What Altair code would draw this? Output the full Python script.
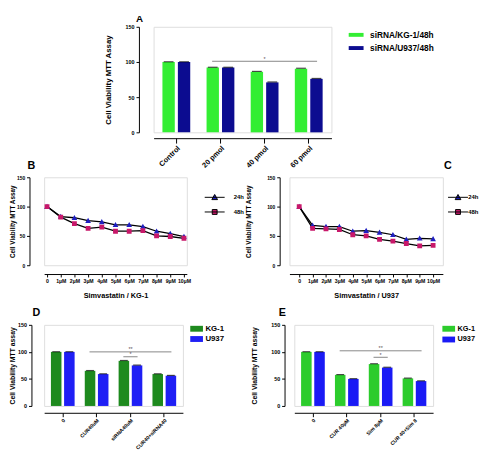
import altair as alt
import pandas as pd

FONT = "Liberation Sans"

# ---------------- data ----------------
# Panel A
a_groups = ["Control", "20 pmol", "40 pmol", "60 pmol"]
a_series = ["siRNA/KG-1/48h", "siRNA/U937/48h"]
a_kg1 = [100, 92, 86, 90.5]
a_u937 = [100, 92, 71, 76]
a_err_kg1 = [0.3, 0.5, 0.6, 0.6]
a_err_u937 = [0.3, 0.5, 0.6, 0.6]
a_sig_start = ["20 pmol"]
a_sig_end = ["60 pmol"]
a_sig_mid = ["40 pmol"]
a_sig_level = [101]
a_sig_text = ["*"]

# Panels B / C
conc = ["0", "1µM", "2µM", "3µM", "4µM", "5µM", "6µM", "7µM", "8µM", "9µM", "10µM"]
line_series = ["24h", "48h"]
b_24h = [100, 83, 81, 76, 74, 69, 69, 66, 58, 54, 49]
b_48h = [100, 82, 71, 63, 65, 58, 58, 59, 50, 49, 46]
c_24h = [100, 68, 66, 66, 58, 59, 56, 52, 44, 46, 45]
c_48h = [100, 63, 62, 61, 52, 50, 44, 41, 37, 33, 34]

# Panel D
d_groups = ["0", "CUR40uM", "siRNA40uM", "CUR40+siRNA40"]
de_series = ["KG-1", "U937"]
d_kg1 = [100, 65, 83.5, 59]
d_u937 = [100, 59, 75, 56]
d_err_kg1 = [0.3, 0.5, 0.6, 0.5]
d_err_u937 = [0.3, 0.5, 0.6, 0.5]
d_sig_start = ["CUR40uM", "siRNA40uM"]
d_sig_end = ["CUR40+siRNA40", "siRNA40uM"]
d_sig_mid = ["siRNA40uM", "siRNA40uM"]
d_sig_level = [100, 91]
d_sig_text = ["**", "*"]

# Panel E
e_groups = ["0", "CUR 40µM", "Sim 8µM", "CUR 40+Sim 8"]
e_kg1 = [100, 57.5, 77.5, 51]
e_u937 = [100, 50, 71, 46]
e_err_kg1 = [0.3, 0.5, 0.6, 0.5]
e_err_u937 = [0.3, 0.5, 0.6, 0.5]
e_sig_start = ["CUR 40µM", "Sim 8µM"]
e_sig_end = ["CUR 40+Sim 8", "Sim 8µM"]
e_sig_mid = ["Sim 8µM", "Sim 8µM"]
e_sig_level = [102, 90]
e_sig_text = ["**", "*"]

INDEP = dict(color="independent", shape="independent", x="independent",
             y="independent", xOffset="independent")


def bar_panel(groups, series, v1, v2, e1, e2, colors, sig, width, height,
              letter, letter_dx, letter_offset, letter_size, ytitle,
              ytitle_size, ytitle_pad, xlabel_size, pad_inner, swatch_path,
              legend_kw, tick_size, y_offset, x_offset, x_tick):
    df = pd.DataFrame({
        "group": groups * 2,
        "series": [series[0]] * len(groups) + [series[1]] * len(groups),
        "value": v1 + v2,
        "err": e1 + e2,
    })
    df["top"] = df["value"] + df["err"]
    sdf = pd.DataFrame({"start": sig[0], "end": sig[1], "mid": sig[2],
                        "level": sig[3], "label": sig[4]})
    xscale = alt.Scale(domain=groups, paddingInner=pad_inner, paddingOuter=0.2)
    xaxis = alt.Axis(labelAngle=-45, offset=x_offset, tickSize=x_tick, title=None,
                     labelFontSize=xlabel_size, labelFontWeight="bold",
                     labelPadding=1, domainColor="black", tickColor="black",
                     labelColor="black", labelOverlap=False)
    yscale = alt.Scale(domain=[0, 150], nice=False)
    yaxis = alt.Axis(values=[0, 50, 100, 150], offset=y_offset, grid=False,
                     title=ytitle, titleFontSize=ytitle_size, titleFontWeight="bold",
                     titleColor="black", labelFontSize=5.5, labelFontWeight="bold",
                     tickSize=3, domainColor="black", tickColor="black",
                     labelColor="black", titlePadding=ytitle_pad, labelPadding=2)
    x = alt.X("group:N", scale=xscale, axis=xaxis)
    xo = alt.XOffset("series:N", scale=alt.Scale(domain=series, paddingInner=0.2))
    base = alt.Chart(df)
    bars = base.mark_bar().encode(
        x=x, xOffset=xo,
        y=alt.Y("value:Q", scale=yscale, axis=yaxis),
        color=alt.Color("series:N", scale=alt.Scale(domain=series, range=colors),
                        legend=alt.Legend(title=None, symbolType=swatch_path,
                                          symbolSize=64, symbolStrokeWidth=0,
                                          labelFontWeight="bold", labelColor="black",
                                          **legend_kw)),
    )
    caps = base.mark_tick(color="black", thickness=1.2, size=tick_size).encode(
        x=x, xOffset=xo, y=alt.Y("top:Q", scale=yscale, axis=yaxis))
    rule = alt.Chart(sdf).mark_rule(color="#666", strokeWidth=0.8).encode(
        x=alt.X("start:N", scale=xscale, axis=xaxis, bandPosition=0.2),
        x2=alt.X2("end", bandPosition=0.8),
        y=alt.Y("level:Q", scale=yscale, axis=yaxis))
    stars = alt.Chart(sdf).mark_text(dy=-2.5, fontSize=5.5, color="#555",
                                     font=FONT).encode(
        x=alt.X("mid:N", scale=xscale, axis=xaxis),
        y=alt.Y("level:Q", scale=yscale, axis=yaxis),
        text="label:N")
    return alt.layer(bars, caps, rule, stars).properties(
        width=width, height=height,
        title=alt.TitleParams(letter, anchor="start", frame="group", dx=letter_dx,
                              offset=letter_offset, fontSize=letter_size,
                              fontWeight="bold", font=FONT, color="black"))


TRI = "M-3.5,0H3.5M0,-1L1,0.8H-1Z"
SQR = "M-3.5,0H3.5M-0.85,-0.85H0.85V0.85H-0.85Z"


def line_panel(v24, v48, xtitle, letter, letter_anchor, letter_dx, width,
               height, padding, ytitle_pad, y_offset, legend_x, legend_label_off):
    df = pd.DataFrame({
        "conc": conc * 2,
        "idx": list(range(len(conc))) * 2,
        "series": [line_series[0]] * len(conc) + [line_series[1]] * len(conc),
        "value": v24 + v48,
    })
    xscale = alt.Scale(domain=conc, padding=padding)
    xaxis = alt.Axis(labelAngle=0, offset=9, tickSize=3, title=xtitle,
                     titleFontSize=7.5, titleFontWeight="bold", titleColor="black",
                     titlePadding=8, labelFontSize=5.3, labelFontWeight="bold",
                     labelColor="black", domainColor="black", tickColor="black",
                     labelOverlap=False, labelPadding=2)
    yscale = alt.Scale(domain=[0, 150], nice=False)
    yaxis = alt.Axis(values=[0, 50, 100, 150], offset=y_offset, grid=False,
                     title="Cell Viability MTT Assay", titleFontSize=6.5,
                     titleFontWeight="bold", titleColor="black", labelFontSize=5,
                     labelFontWeight="bold", labelColor="black", tickSize=3,
                     domainColor="black", tickColor="black", titlePadding=ytitle_pad,
                     labelPadding=2)
    x = alt.X("conc:O", scale=xscale, axis=xaxis)
    y = alt.Y("value:Q", scale=yscale, axis=yaxis)
    base = alt.Chart(df)
    line = base.mark_line(color="black", strokeWidth=1.3).encode(
        x=x, y=y, detail="series:N", order=alt.Order("idx:Q"))
    pts = base.mark_point(filled=True, size=34, opacity=1).encode(
        x=x, y=y,
        color=alt.Color("series:N", scale=alt.Scale(domain=line_series,
                                                     range=["#1f1fc0", "#c8186a"]),
                        legend=alt.Legend(title=None, labelFontSize=6,
                                          labelFontWeight="bold", labelColor="black",
                                          symbolStrokeColor="black",
                                          symbolStrokeWidth=1, symbolSize=34,
                                          rowPadding=6, orient="none",
                                          legendX=legend_x, legendY=17,
                                          labelOffset=legend_label_off)),
        shape=alt.Shape("series:N", scale=alt.Scale(domain=line_series,
                                                     range=[TRI, SQR]),
                        legend=alt.Legend(title=None, orient="none",
                                          legendX=legend_x, legendY=17)),
    )
    return alt.layer(line, pts).properties(
        width=width, height=height,
        title=alt.TitleParams(letter, anchor=letter_anchor, frame="group",
                              dx=letter_dx, offset=4, fontSize=11,
                              fontWeight="bold", font=FONT, color="black"))


RECT_A = "M-1.9,-0.5H1.9V0.5H-1.9Z"
RECT_D = "M-1.625,-0.75H1.625V0.75H-1.625Z"

panel_a = bar_panel(a_groups, a_series, a_kg1, a_u937, a_err_kg1, a_err_u937,
                    ["#33ee33", "#0c0c90"],
                    (a_sig_start, a_sig_end, a_sig_mid, a_sig_level, a_sig_text),
                    width=182, height=108, letter="A", letter_dx=-18,
                    letter_offset=1, letter_size=10,
                    ytitle="Cell Viability MTT Assay", ytitle_size=8, ytitle_pad=13,
                    xlabel_size=7.5, pad_inner=0.37, swatch_path=RECT_A,
                    legend_kw=dict(orient="none", legendX=203, legendY=4,
                                   labelFontSize=8.5, rowPadding=4.5,
                                   labelOffset=10),
                    tick_size=10, y_offset=15, x_offset=6, x_tick=5)

panel_b = line_panel(b_24h, b_48h, "Simvastatin / KG-1", "B", "start", -17,
                     146, 90, 0.21, 1, 15, 171, 16)
panel_c = line_panel(c_24h, c_48h, "Simvastatin / U937", "C", "end", 9,
                     157, 90, 0.73, 15, 10, 169, 7)

panel_d = bar_panel(d_groups, de_series, d_kg1, d_u937, d_err_kg1, d_err_u937,
                    ["#1e8a1e", "#1f1ff5"],
                    (d_sig_start, d_sig_end, d_sig_mid, d_sig_level, d_sig_text),
                    width=142, height=83, letter="D", letter_dx=-12,
                    letter_offset=5, letter_size=11,
                    ytitle="Cell Viability MTT assay", ytitle_size=7, ytitle_pad=2,
                    xlabel_size=5.3, pad_inner=0.3, swatch_path=RECT_D,
                    legend_kw=dict(orient="right", offset=10, labelFontSize=8,
                                   rowPadding=2.5, labelOffset=5),
                    tick_size=8, y_offset=13, x_offset=7, x_tick=4)

panel_e = bar_panel(e_groups, de_series, e_kg1, e_u937, e_err_kg1, e_err_u937,
                    ["#2ccc2c", "#1a1af5"],
                    (e_sig_start, e_sig_end, e_sig_mid, e_sig_level, e_sig_text),
                    width=142, height=83, letter="E", letter_dx=-16,
                    letter_offset=5, letter_size=11,
                    ytitle="Cell Viability MTT assay", ytitle_size=7, ytitle_pad=14,
                    xlabel_size=5.3, pad_inner=0.3, swatch_path=RECT_D,
                    legend_kw=dict(orient="right", offset=12, labelFontSize=7.5,
                                   rowPadding=3, labelOffset=5),
                    tick_size=8, y_offset=10, x_offset=7, x_tick=4)

spacer = alt.Chart(pd.DataFrame({"s": [""]})).mark_text().encode(
    text="s:N").properties(width=46, height=10)

row1 = alt.hconcat(spacer, panel_a, spacing=15).resolve_scale(**INDEP)
row2 = alt.hconcat(panel_b, panel_c, spacing=0).resolve_scale(**INDEP)
row3 = alt.hconcat(panel_d, panel_e, spacing=24).resolve_scale(**INDEP)

lower = alt.vconcat(row2, row3, spacing=6).resolve_scale(**INDEP)

chart = alt.vconcat(row1, lower, spacing=-10).properties(
    padding=0
).resolve_scale(**INDEP).configure_view(strokeWidth=0).configure(font=FONT)

chart.save("out.html", embed_options={"renderer": "svg", "actions": False})
